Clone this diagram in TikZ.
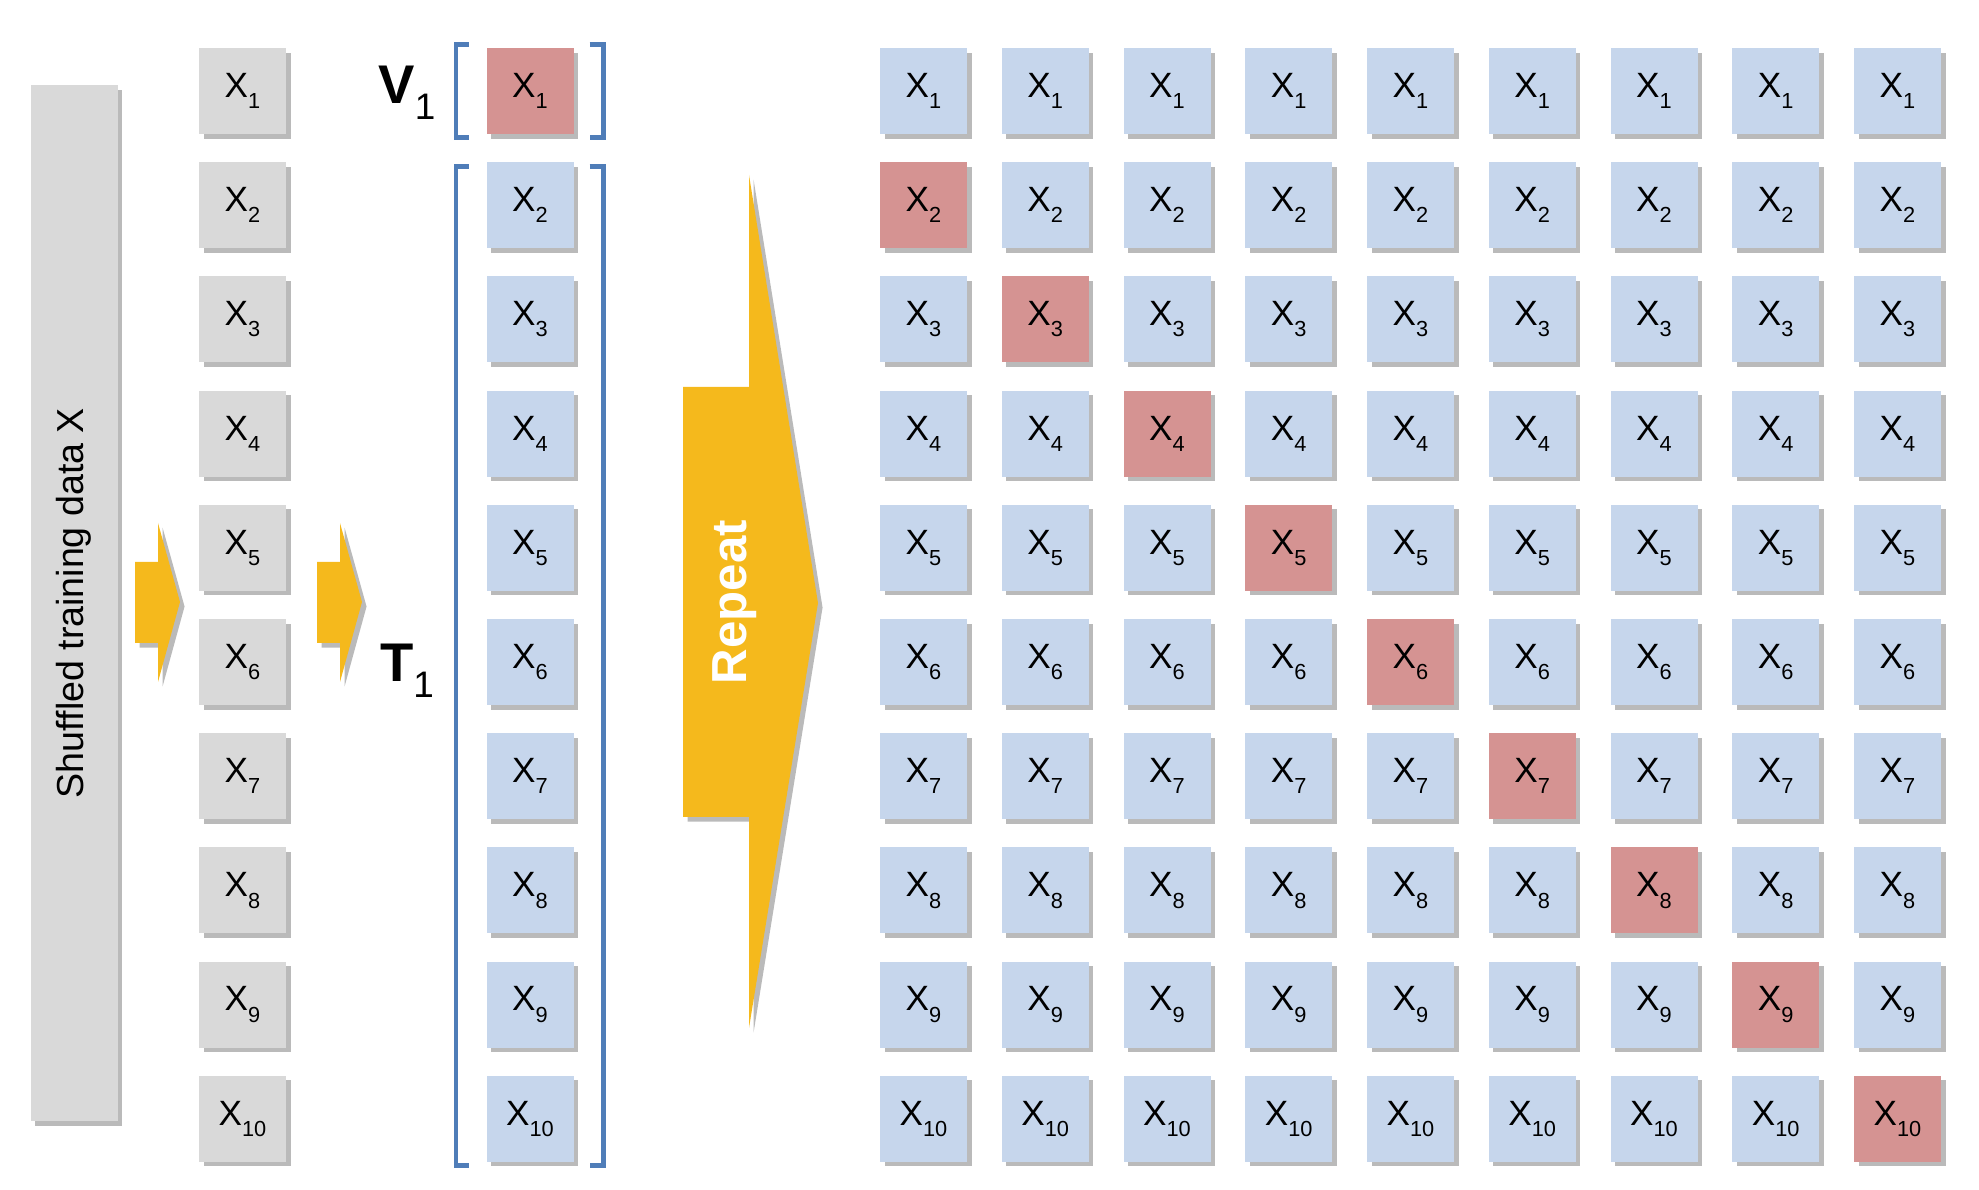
\documentclass[tikz,border=0pt]{standalone}
\usepackage{fontspec}
\setmainfont{Liberation Sans}
\usetikzlibrary{shadows,calc,positioning}
\definecolor{cellgrey}{HTML}{D9D9D9}
\definecolor{cellblue}{HTML}{C6D6EC}
\definecolor{cellred}{HTML}{D59392}
\definecolor{brackblue}{HTML}{4F7DB8}
\definecolor{arrowgold}{HTML}{F5B91C}
\newcommand{\xsub}[1]{X\raisebox{-3.2pt}{\fontsize{6.2}{7}\selectfont #1}}

\begin{document}
\begin{tikzpicture}[font=\fontsize{10}{12}\selectfont,
    shade/.style={drop shadow={shadow xshift=1.3pt,shadow yshift=-1.3pt,opacity=0.45,fill=black!60}},
    cell/.style={shade,minimum width=0.87cm,minimum height=0.86cm,inner sep=0pt},
    brk/.style={brackblue,line width=1.3pt,line join=miter},
    setlab/.style={font=\fontsize{15.5}{17}\selectfont\bfseries}]
  \useasboundingbox (0,0) rectangle (19.79,-11.90);
  \node[cell,fill=cellgrey,minimum width=0.87cm,minimum height=10.36cm] (data) at (0.74,-6.03) {};
  \node[rotate=90,font=\fontsize{10.7}{12}\selectfont] (datalab) at (data) {Shuffled training data X};
  \foreach \x in {1.35,3.17}{
    \fill[arrowgold,shade] (\x,-5.62) -- ++(0.23,0) -- ++(0,0.39) -- ++(0.22,-0.79) -- ++(-0.22,-0.80) -- ++(0,0.39) -- ++(-0.23,0) -- cycle;}
  \foreach \r in {1,...,10}{
    \node[cell,fill=cellgrey] (l\r) at (2.425,{-0.91-1.142*(\r-1)}) {\xsub{\r}};
    \ifnum\r=1 \def\fc{cellred}\else\def\fc{cellblue}\fi
    \node[cell,fill=\fc] (m\r) at (5.30,{-0.91-1.142*(\r-1)}) {\xsub{\r}};}
  \node[setlab] (vlab) at (4.07,-0.93) {V\raisebox{-0.3em}{\fontsize{10.5}{11}\selectfont\mdseries 1}};
  \node[setlab] (tlab) at (4.07,-6.71) {T\raisebox{-0.3em}{\fontsize{10.5}{11}\selectfont\mdseries 1}};
  \foreach \a/\b/\t in {m1/m1/0.03,m2/m10/-0.05}{
    \draw[brk] ($(\a.north west)+(-0.17,\t)$) -| ($(\b.south west)+(-0.30,-0.03)$) -- ++(0.13,0);
    \draw[brk] ($(\a.north east)+(0.155,\t)$) -| ($(\b.south east)+(0.295,-0.03)$) -- ++(-0.14,0);}
  \fill[arrowgold,shade] (6.83,-3.87) -- (7.49,-3.87) -- (7.49,-1.75) -- (8.18,-6.03) -- (7.49,-10.28) -- (7.49,-8.17) -- (6.83,-8.17) -- cycle;
  \node[rotate=90,white,font=\fontsize{14}{15}\selectfont\bfseries] (rep) at (7.35,-6.02) {Repeat};
  \foreach \c in {1,...,9}{
    \foreach \r in {1,...,10}{
      \ifnum\r=\numexpr\c+1\relax \def\fc{cellred}\else\def\fc{cellblue}\fi
      \node[cell,fill=\fc] (g\r-\c) at ({9.235+1.2175*(\c-1)},{-0.91-1.142*(\r-1)}) {\xsub{\r}};}}
\end{tikzpicture}
\end{document}
